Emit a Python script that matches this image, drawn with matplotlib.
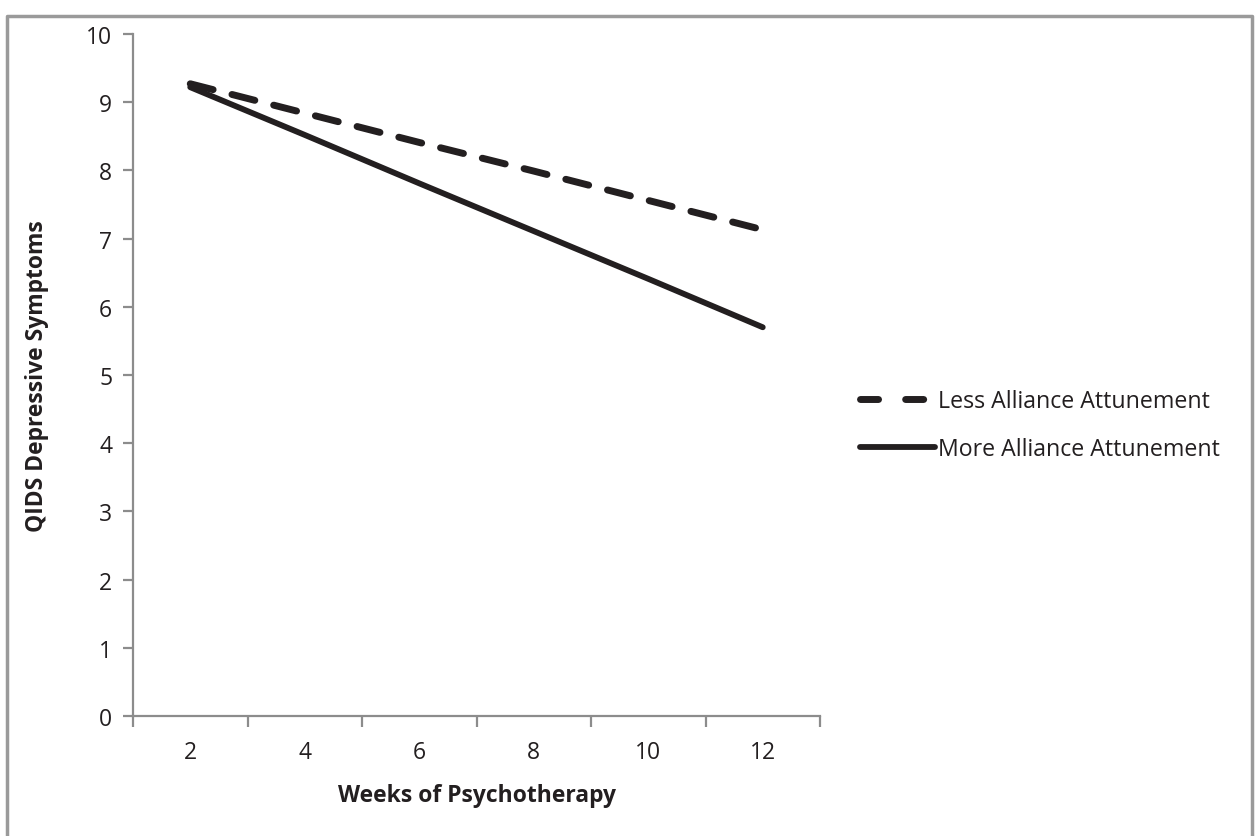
import matplotlib.pyplot as plt
from matplotlib.lines import Line2D

plt.rcParams['font.family'] = ['Open Sans', 'DejaVu Sans']

weeks = ["2", "4", "6", "8", "10", "12"]
less_attunement = [9.27, 8.84, 8.41, 7.99, 7.56, 7.13]
more_attunement = [9.22, 8.52, 7.81, 7.11, 6.41, 5.70]
legend_labels = ["Less Alliance Attunement", "More Alliance Attunement"]

W, H = 1257, 837
fig = plt.figure(figsize=(W / 100, H / 100), dpi=100)
ax = fig.add_axes([133 / W, 1 - 717 / H, (820 - 133) / W, (717 - 35) / H])

x = list(range(len(weeks)))
ink = "#231f20"
ax.plot(x, less_attunement, color=ink, lw=5, ls=(0, (3.4, 2.8)),
        solid_capstyle="round", dash_capstyle="round", label=legend_labels[0])
ax.plot(x, more_attunement, color=ink, lw=4.2, solid_capstyle="round",
        label=legend_labels[1])

ax.set_xlim(-0.5, len(weeks) - 0.5)
ax.set_ylim(0, 10)
ax.set_yticks(range(0, 11))
ax.set_xticks([i - 0.5 for i in range(len(weeks) + 1)])
ax.set_xticklabels([])
ax.set_xticks(x, minor=True)
ax.set_xticklabels(weeks, minor=True)

grey = "#8c8c8c"
for s in ["top", "right"]:
    ax.spines[s].set_visible(False)
for s in ["left", "bottom"]:
    ax.spines[s].set_color(grey)
    ax.spines[s].set_linewidth(1.6)
ax.tick_params(axis="y", direction="out", length=7, width=1.6, color=grey,
               labelsize=16.5, pad=8, labelcolor=ink)
ax.tick_params(axis="x", which="major", direction="out", length=8, width=1.6,
               color=grey)
ax.tick_params(axis="x", which="minor", length=0, labelsize=16.5, pad=17,
               labelcolor=ink)

ax.set_xlabel("Weeks of Psychotherapy", fontsize=16.5, fontweight="bold",
              labelpad=14, color=ink)
ax.set_ylabel("QIDS Depressive Symptoms", fontsize=16.5, fontweight="bold",
              labelpad=27, color=ink)

leg = fig.legend(loc="upper left", bbox_to_anchor=(839 / W, 1 - 369 / H),
                 frameon=False, fontsize=16.7, handlelength=3.25,
                 handletextpad=0.12, labelspacing=1.03)
for t in leg.get_texts():
    t.set_color(ink)
# legend dash: two long dashes like the original
leg.legend_handles[0].set_dashes((2.6, 3.9))

# outer chart frame (bottom edge is cut off in the original)
fx = [7 / W, 7 / W, 1252 / W, 1252 / W]
fy = [0, 1 - 17 / H, 1 - 17 / H, 0]
fig.add_artist(Line2D(fx, fy, transform=fig.transFigure, color="#9a9a9a", lw=2.5))

fig.savefig("out.png", dpi=100)
